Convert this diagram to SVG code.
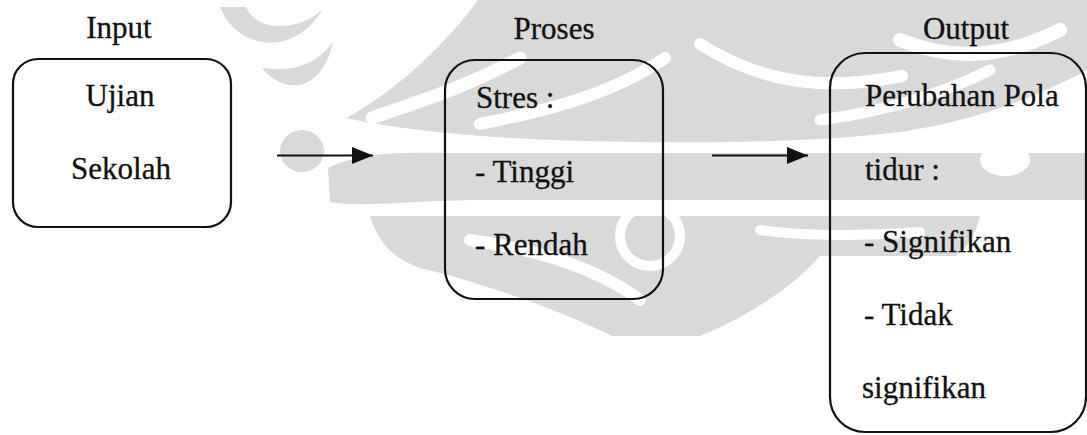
<svg xmlns="http://www.w3.org/2000/svg" width="1087" height="435" viewBox="0 0 1087 435">
  <defs>
    <style>
      .box { fill: none; stroke: #111; stroke-width: 2.2; }
      .lbl { font-family: 'Liberation Serif', 'DejaVu Serif', serif; font-size: 31px; fill: #111; stroke: #111; stroke-width: 0.3; }
      .mid { text-anchor: middle; }
      .link { stroke: #111; stroke-width: 2; fill: none; }
      .mark { fill: #d9d9d9; }
      .cut { fill: none; stroke: #ffffff; stroke-linecap: round; }
    </style>
    <marker id="head" markerUnits="userSpaceOnUse" markerWidth="22" markerHeight="18" refX="21" refY="8.5" orient="auto">
      <path d="M0,0 L21,8.5 L0,17 Z" fill="#111"/>
    </marker>
  </defs>

  <rect width="1087" height="435" fill="#ffffff"/>

  <!-- faint background emblem -->
  <g id="emblem">
    <path class="mark" d="M220,7 C236,48 292,60 323,9 C302,30 258,34 246,7 Z"/>
    <path class="mark" d="M262,68 C285,96 322,92 333,42 C316,66 290,72 262,68 Z"/>
    <path class="mark" d="M478,0 H1087 V70 C1040,95 980,120 900,132 C820,142 720,143 640,142 C540,141 430,136 346,118 C395,92 445,45 478,0 Z"/>
    <ellipse class="mark" cx="302" cy="151" rx="22" ry="21"/>
    <path class="mark" d="M328,168 C360,152 400,152 450,153 H1087 V200 H480 C420,200 360,208 330,202 Z"/>
    <path class="mark" d="M370,216 H980 C975,238 965,250 955,256 H820 C792,288 745,318 700,336 H612 C560,310 480,282 420,268 C398,260 380,248 370,216 Z"/>
    <!-- white swirls cut into the emblem -->
    <path class="cut" stroke-width="13" d="M372,118 C410,104 456,92 520,58"/>
    <path class="cut" stroke-width="12" d="M480,124 C540,112 610,96 665,58"/>
    <path class="cut" stroke-width="12" d="M700,44 C760,82 822,92 902,76"/>
    <path class="cut" stroke-width="14" d="M900,40 C950,60 1000,60 1060,30"/>
    <path class="cut" stroke-width="11" d="M820,120 C880,112 940,95 990,70"/>
    <ellipse cx="1005" cy="160" rx="25" ry="16" fill="#ffffff"/>
    <circle cx="650" cy="236" r="30" fill="none" stroke="#ffffff" stroke-width="10"/>
    <path class="cut" stroke-width="12" d="M470,240 C540,250 600,270 640,300"/>
    <path class="cut" stroke-width="10" d="M760,230 C800,236 860,236 920,232"/>
  </g>

  <!-- headings -->
  <text class="lbl mid" x="119" y="38">Input</text>
  <text class="lbl mid" x="554" y="39">Proses</text>
  <text class="lbl mid" x="966" y="39">Output</text>

  <g id="input">
    <rect class="box" x="13" y="59" width="218" height="168" rx="25"/>
    <text class="lbl mid" x="120" y="106">Ujian</text>
    <text class="lbl mid" x="121" y="179">Sekolah</text>
  </g>

  <g id="proses">
    <rect class="box" x="445" y="60" width="218" height="239" rx="30"/>
    <text class="lbl" x="476" y="108">Stres :</text>
    <text class="lbl" x="475" y="182">- Tinggi</text>
    <text class="lbl" x="475" y="255">- Rendah</text>
  </g>

  <g id="output">
    <rect class="box" x="830" y="53" width="256" height="379" rx="35"/>
    <text class="lbl" x="865" y="106">Perubahan Pola</text>
    <text class="lbl" x="865" y="180">tidur :</text>
    <text class="lbl" x="864" y="252">- Signifikan</text>
    <text class="lbl" x="864" y="325">- Tidak</text>
    <text class="lbl" x="862" y="398">signifikan</text>
  </g>

  <g id="connectors">
    <line class="link" x1="277" y1="155.5" x2="373" y2="155.5" marker-end="url(#head)"/>
    <line class="link" x1="712" y1="155.5" x2="808" y2="155.5" marker-end="url(#head)"/>
  </g>
</svg>
